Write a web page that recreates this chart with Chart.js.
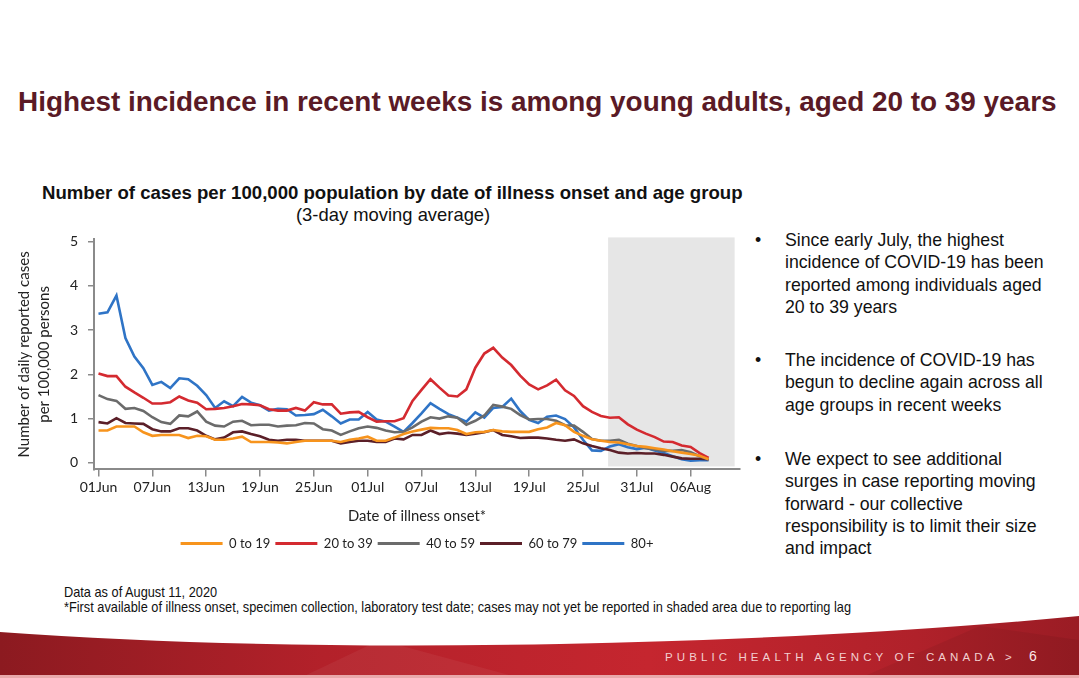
<!DOCTYPE html>
<html>
<head>
<meta charset="utf-8">
<script src="https://cdn.jsdelivr.net/npm/chart.js@4.4.1/dist/chart.umd.min.js"></script>
<style>
  body { margin: 0; width: 1079px; height: 678px; overflow: hidden; background: #fff; position: relative; font-family: "Liberation Sans", Arial, sans-serif; }
  .abs { position: absolute; white-space: nowrap; }
  #title { left: 18px; top: 86px; font-weight: bold; font-size: 27.9px; color: #5a1a26; }
  #ctitle { left: 42px; top: 182px; font-weight: bold; font-size: 18.6px; color: #111; }
  #csub { left: 296px; top: 204px; font-size: 18.4px; color: #111; }
  .bul { position: absolute; left: 755px; font-size: 17.7px; line-height: 22.3px; color: #111; }
  .bul span.dot { position: absolute; left: 0; }
  .bul div.txt { margin-left: 30px; white-space: nowrap; }
  .note { font-size: 14.3px; color: #111; transform: scaleX(0.893); transform-origin: left; }
  #foot { left: 0; top: 600px; }
  #agency { left: 665px; top: 651px; font-size: 11.5px; letter-spacing: 4.1px; color: #f2cfd0; }
  #page { left: 1029px; top: 648px; font-size: 14px; color: #fbe9e9; }
  #wrap { position: absolute; left: 0; top: 221px; width: 760px; height: 339px; }
</style>
</head>
<body>
<svg class="abs" id="foot" width="1079" height="78" viewBox="0 600 1079 78">
  <defs>
    <linearGradient id="g" x1="0" y1="0" x2="1" y2="0">
      <stop offset="0" stop-color="#8c1a20"/>
      <stop offset="0.3" stop-color="#b3212a"/>
      <stop offset="0.6" stop-color="#c5262f"/>
      <stop offset="0.85" stop-color="#b0212a"/>
      <stop offset="1" stop-color="#9a1c24"/>
    </linearGradient>
  </defs>
  <path d="M0,632 Q250,650 560,644 Q850,638 1079,616 L1079,678 L0,678 Z" fill="url(#g)"/>
  <path d="M300,678 L380,640 L520,678 Z" fill="#ffffff" opacity="0.05"/>
  <path d="M860,678 L980,626 L1079,640 L1079,678 Z" fill="#000000" opacity="0.06"/>
  <rect x="0" y="675" width="1079" height="3" fill="#e9a9ab"/>
</svg>

<div class="abs" id="title">Highest incidence in recent weeks is among young adults, aged 20 to 39 years</div>
<div class="abs" id="ctitle">Number of cases per 100,000 population by date of illness onset and age group</div>
<div class="abs" id="csub">(3-day moving average)</div>

<div class="bul" style="top:229px"><span class="dot">•</span><div class="txt">Since early July, the highest<br>incidence of COVID-19 has been<br>reported among individuals aged<br>20 to 39 years</div></div>
<div class="bul" style="top:349px"><span class="dot">•</span><div class="txt">The incidence of COVID-19 has<br>begun to decline again across all<br>age groups in recent weeks</div></div>
<div class="bul" style="top:448px"><span class="dot">•</span><div class="txt">We expect to see additional<br>surges in case reporting moving<br>forward - our collective<br>responsibility is to limit their size<br>and impact</div></div>

<div class="abs note" style="left:64px; top:584px">Data as of August 11, 2020</div>
<div class="abs note" style="left:64px; top:599px">*First available of illness onset, specimen collection, laboratory test date; cases may not yet be reported in shaded area due to reporting lag</div>

<div class="abs" id="agency">PUBLIC HEALTH AGENCY OF CANADA &gt;</div>
<div class="abs" id="page">6</div>

<div id="wrap"><canvas id="chart"></canvas></div>

<script>
// day index 0 = 01Jun ... 68 = 08Aug
const tickDays = [0, 6, 12, 18, 24, 30, 36, 42, 48, 54, 60, 66];
const tickLabels = ['01Jun', '07Jun', '13Jun', '19Jun', '25Jun', '01Jul', '07Jul', '13Jul', '19Jul', '25Jul', '31Jul', '06Aug'];
const shadeFrom = 56.8;
const shadeTo = 70.9;

const age0to19 = [0.73,0.73,0.82,0.82,0.82,0.69,0.61,0.63,0.63,0.63,0.56,0.61,0.60,0.52,0.52,0.55,0.59,0.47,0.47,
  0.47,0.46,0.44,0.47,0.50,0.50,0.50,0.50,0.47,0.52,0.55,0.59,0.50,0.50,0.57,0.65,0.71,0.75,0.79,0.78,0.78,
  0.74,0.65,0.69,0.70,0.74,0.71,0.70,0.70,0.70,0.76,0.80,0.90,0.85,0.70,0.61,0.53,0.50,0.47,0.46,0.42,0.38,
  0.36,0.33,0.30,0.26,0.23,0.20,0.16,0.08];
const age20to39 = [2.02,1.96,1.96,1.72,1.59,1.47,1.34,1.34,1.37,1.50,1.41,1.36,1.21,1.22,1.24,1.28,1.33,1.32,1.30,
  1.21,1.18,1.18,1.24,1.18,1.37,1.32,1.32,1.11,1.14,1.15,1.03,0.93,0.94,0.94,1.01,1.40,1.65,1.89,1.70,1.52,
  1.50,1.66,2.15,2.47,2.60,2.38,2.21,1.97,1.77,1.66,1.75,1.88,1.64,1.51,1.28,1.15,1.06,1.02,1.03,0.87,0.75,
  0.66,0.58,0.48,0.47,0.39,0.36,0.22,0.11];
const age40to59 = [1.53,1.44,1.40,1.22,1.24,1.17,1.03,0.92,0.88,1.07,1.05,1.16,0.93,0.84,0.82,0.93,0.95,0.85,0.86,
  0.86,0.82,0.84,0.85,0.90,0.89,0.76,0.73,0.63,0.71,0.78,0.82,0.79,0.73,0.69,0.70,0.80,0.93,1.03,1.00,1.05,
  1.02,0.86,0.95,1.07,1.31,1.27,1.22,1.08,0.98,0.99,0.99,0.95,0.85,0.84,0.70,0.54,0.50,0.50,0.52,0.43,0.38,
  0.33,0.30,0.27,0.27,0.29,0.24,0.15,0.08];
const age60to79 = [0.92,0.89,1.01,0.90,0.89,0.88,0.76,0.71,0.71,0.78,0.78,0.73,0.61,0.53,0.57,0.69,0.71,0.65,0.60,
  0.52,0.50,0.52,0.52,0.50,0.50,0.50,0.50,0.44,0.47,0.50,0.50,0.47,0.47,0.55,0.53,0.63,0.63,0.73,0.65,0.68,
  0.66,0.63,0.66,0.69,0.74,0.63,0.60,0.56,0.57,0.57,0.55,0.52,0.50,0.53,0.44,0.38,0.33,0.29,0.23,0.21,0.22,
  0.21,0.21,0.18,0.14,0.10,0.09,0.09,0.08];
const age80plus = [3.37,3.40,3.78,2.82,2.40,2.14,1.76,1.83,1.69,1.91,1.89,1.74,1.53,1.24,1.39,1.28,1.49,1.36,1.30,
  1.18,1.22,1.21,1.07,1.08,1.10,1.20,1.05,0.89,0.98,0.98,1.15,0.98,0.93,0.82,0.70,0.90,1.12,1.35,1.22,1.10,
  1.02,0.93,1.14,1.02,1.24,1.26,1.45,1.17,0.97,0.90,1.04,1.07,0.99,0.80,0.52,0.28,0.27,0.37,0.42,0.35,0.31,
  0.34,0.28,0.22,0.15,0.08,0.05,0.06,0.06];

function pts(arr) {
  return arr.map((v, i) => ({x: i, y: v}));
}

function line(label, arr, color) {
  return {
    label: label,
    data: pts(arr),
    borderColor: color,
    backgroundColor: color,
    borderWidth: 2.6,
    pointRadius: 0,
    tension: 0,
    fill: false,
  };
}

const shade = {
  id: 'shade',
  beforeDatasetsDraw(chart) {
    const {ctx, chartArea, scales} = chart;
    const x1 = scales.x.getPixelForValue(shadeFrom);
    const x2 = scales.x.getPixelForValue(shadeTo);
    ctx.save();
    ctx.fillStyle = '#e6e6e6';
    ctx.fillRect(x1, chartArea.top - 2, x2 - x1, chartArea.bottom - chartArea.top - 1);
    ctx.restore();
  }
};

const axisFont = {family: 'Lato', size: 14};

new Chart(document.getElementById('chart'), {
  type: 'line',
  data: {
    datasets: [
      line('0 to 19', age0to19, '#f7941d'),
      line('20 to 39', age20to39, '#d42a30'),
      line('40 to 59', age40to59, '#6b6b6b'),
      line('60 to 79', age60to79, '#5b1f28'),
      line('80+', age80plus, '#2f74c6'),
    ]
  },
  options: {
    responsive: true,
    maintainAspectRatio: false,
    animation: false,
    layout: {padding: {top: 12, right: 20, left: 14, bottom: 0}},
    plugins: {
      tooltip: {enabled: false},
      legend: {
        position: 'bottom',
        fullSize: false,
        labels: {
          boxWidth: 42,
          boxHeight: 3,
          padding: 5,
          color: '#222',
          font: {family: 'Lato', size: 13},
          generateLabels: chart => Chart.defaults.plugins.legend.labels.generateLabels(chart).map(l => ({...l, lineWidth: 0}))
        }
      }
    },
    scales: {
      x: {
        type: 'linear',
        min: -0.5,
        max: 71.5,
        afterBuildTicks: axis => { axis.ticks = tickDays.map(v => ({value: v})); },
        ticks: {
          autoSkip: false,
          maxRotation: 0,
          color: '#222',
          font: axisFont,
          padding: 3,
          callback: (v) => tickLabels[tickDays.indexOf(v)]
        },
        grid: {drawOnChartArea: false, drawTicks: true, tickLength: 7, color: '#8a8a8a', lineWidth: 1.5},
        border: {color: '#8a8a8a', width: 2},
        title: {display: true, text: 'Date of illness onset*', color: '#222', font: {family: 'Lato', size: 14.8}, padding: {top: 8, bottom: 7}}
      },
      y: {
        min: -0.15,
        max: 5.05,
        afterBuildTicks: axis => { axis.ticks = [0, 1, 2, 3, 4, 5].map(v => ({value: v})); },
        ticks: {color: '#222', font: axisFont, padding: 10},
        grid: {drawOnChartArea: false, drawTicks: true, tickLength: 6, color: '#8a8a8a', lineWidth: 1.5},
        border: {color: '#8a8a8a', width: 2},
        title: {
          display: true,
          text: ['Number of daily reported cases', 'per 100,000 persons'],
          color: '#222',
          font: {family: 'Lato', size: 15, lineHeight: 1.33},
          padding: {top: 0, bottom: 6}
        }
      }
    }
  },
  plugins: [shade]
});
</script>
</body>
</html>
